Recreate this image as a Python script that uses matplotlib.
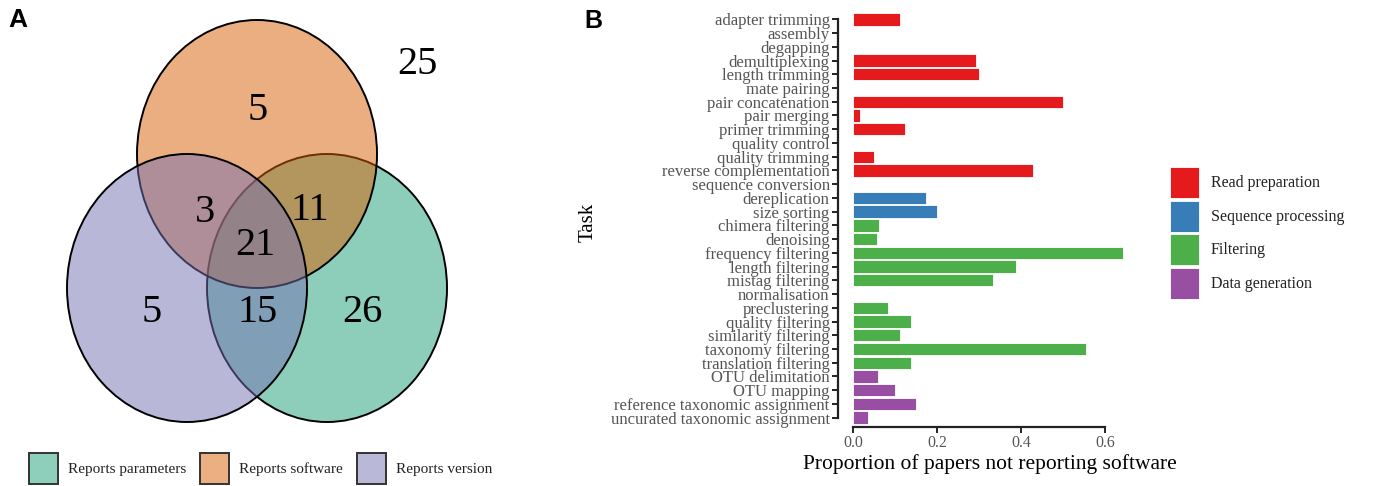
import matplotlib
matplotlib.use("Agg")
import matplotlib.pyplot as plt
from matplotlib.patches import Ellipse, Rectangle

# ---------------- data ----------------
venn_labels = ["Reports parameters", "Reports software", "Reports version"]
venn_colors = ["#1B9E77", "#D95F02", "#7570B3"]
# region counts
only_software = 5
only_version = 5
only_parameters = 26
software_version = 3
software_parameters = 11
version_parameters = 15
all_three = 21
none_of_them = 25

tasks = ["adapter trimming", "assembly", "degapping", "demultiplexing",
         "length trimming", "mate pairing", "pair concatenation", "pair merging",
         "primer trimming", "quality control", "quality trimming",
         "reverse complementation", "sequence conversion", "dereplication",
         "size sorting", "chimera filtering", "denoising", "frequency filtering",
         "length filtering", "mistag filtering", "normalisation", "preclustering",
         "quality filtering", "similarity filtering", "taxonomy filtering",
         "translation filtering", "OTU delimitation", "OTU mapping",
         "reference taxonomic assignment", "uncurated taxonomic assignment"]
proportions = [0.113, 0.0, 0.0, 0.292, 0.299, 0.0, 0.499, 0.017, 0.123, 0.0,
               0.050, 0.428, 0.0, 0.173, 0.200, 0.063, 0.056, 0.644, 0.388,
               0.333, 0.0, 0.083, 0.137, 0.113, 0.555, 0.137, 0.060, 0.100,
               0.150, 0.036]
groups = ["Read preparation"] * 13 + ["Sequence processing"] * 2 + \
         ["Filtering"] * 11 + ["Data generation"] * 4
group_names = ["Read preparation", "Sequence processing", "Filtering", "Data generation"]
group_colors = ["#E41A1C", "#377EB8", "#4DAF4A", "#984EA3"]
xticks = [0.0, 0.2, 0.4, 0.6]

# ---------------- figure ----------------
W, H = 1386, 486
fig = plt.figure(figsize=(W / 100, H / 100), dpi=100)
serif = ["Liberation Serif", "DejaVu Serif"]

# overlay in pixel coordinates
ov = fig.add_axes([0, 0, 1, 1])
ov.set_xlim(0, W)
ov.set_ylim(H, 0)
ov.axis("off")
ov.patch.set_alpha(0)

# Venn: draw parameters (green), software (orange), version (purple)
centers = {"Reports parameters": (327, 288), "Reports software": (257, 154),
           "Reports version": (187, 288)}
for lab, col in zip(venn_labels, venn_colors):
    rgb = matplotlib.colors.to_rgb(col)
    e = Ellipse(centers[lab], width=240, height=268,
                facecolor=(*rgb, 0.5), edgecolor="black", linewidth=1.4)
    ov.add_patch(e)

num_kw = dict(fontsize=29, family=serif, ha="center", va="center", color="black")
ov.text(258, 110, str(only_software), **num_kw)
ov.text(417, 65, str(none_of_them), **num_kw)
ov.text(205, 212, str(software_version), **num_kw)
ov.text(310, 210, str(software_parameters), **num_kw)
ov.text(255, 245, str(all_three), **num_kw)
ov.text(152, 312, str(only_version), **num_kw)
ov.text(258, 312, str(version_parameters), **num_kw)
ov.text(362, 312, str(only_parameters), **num_kw)

# Venn legend
leg_x = [29, 200, 357]
for x, lab, col in zip(leg_x, venn_labels, venn_colors):
    rgb = matplotlib.colors.to_rgb(col)
    fc = tuple(0.5 * c + 0.5 for c in rgb)
    ov.add_patch(Rectangle((x, 453), 29, 31, facecolor=fc,
                           edgecolor="#333333", linewidth=1.4))
    ov.text(x + 39, 469, lab, fontsize=11, family=serif, ha="left",
            va="center", color="#222222")

# panel letters
ov.text(8, 20, "A", fontsize=19, fontweight="bold", family="Liberation Sans",
        ha="left", va="center")
ov.text(584, 21, "B", fontsize=18, fontweight="bold", family="Liberation Sans",
        ha="left", va="center")

# ---------------- bar chart ----------------
ax_l, ax_r, ax_t, ax_b = 838, 1138, 10, 427
ax = fig.add_axes([ax_l / W, (H - ax_b) / H, (ax_r - ax_l) / W, (ax_b - ax_t) / H])
ax.patch.set_alpha(0)
ypos = list(range(len(tasks)))
cmap = dict(zip(group_names, group_colors))
ax.barh(ypos, proportions, height=0.9, color=[cmap[g] for g in groups],
        edgecolor="white", linewidth=0.6)
ax.set_ylim(len(tasks) - 1 + 0.68, -0.68)
ax.set_xlim(-15 / 420, (ax_r - 853) / 420)
ax.set_yticks(ypos)
ax.set_yticklabels(tasks, family=serif, fontsize=12, color="#555555")
ax.set_xticks(xticks)
ax.set_xticklabels([f"{t:.1f}" for t in xticks], family=serif, fontsize=11.5,
                   color="#555555")
for s in ["top", "right"]:
    ax.spines[s].set_visible(False)
ax.spines["left"].set_bounds(0, len(tasks) - 1)
ax.spines["bottom"].set_bounds(xticks[0], xticks[-1])
for s in ["left", "bottom"]:
    ax.spines[s].set_linewidth(1.6)
    ax.spines[s].set_color("#222222")
ax.tick_params(axis="both", length=4, width=1.4, color="#222222", pad=2)
ax.set_xlabel("Proportion of papers not reporting software", family=serif,
              fontsize=15.5, color="black")
ax.set_ylabel("Task", family=serif, fontsize=15, color="black")
ax.xaxis.set_label_coords(0.507, -0.064)
ax.yaxis.set_label_coords(-0.80, 0.49)

# bar legend
for i, (g, c) in enumerate(zip(group_names, group_colors)):
    y0 = 167 + i * 33.7
    ov.add_patch(Rectangle((1170, y0), 29, 31, facecolor=c, edgecolor="white",
                           linewidth=0.6))
    ov.text(1211, y0 + 16, g, fontsize=11.5, family=serif, ha="left",
            va="center", color="#222222")

fig.savefig("out.png", dpi=100)
